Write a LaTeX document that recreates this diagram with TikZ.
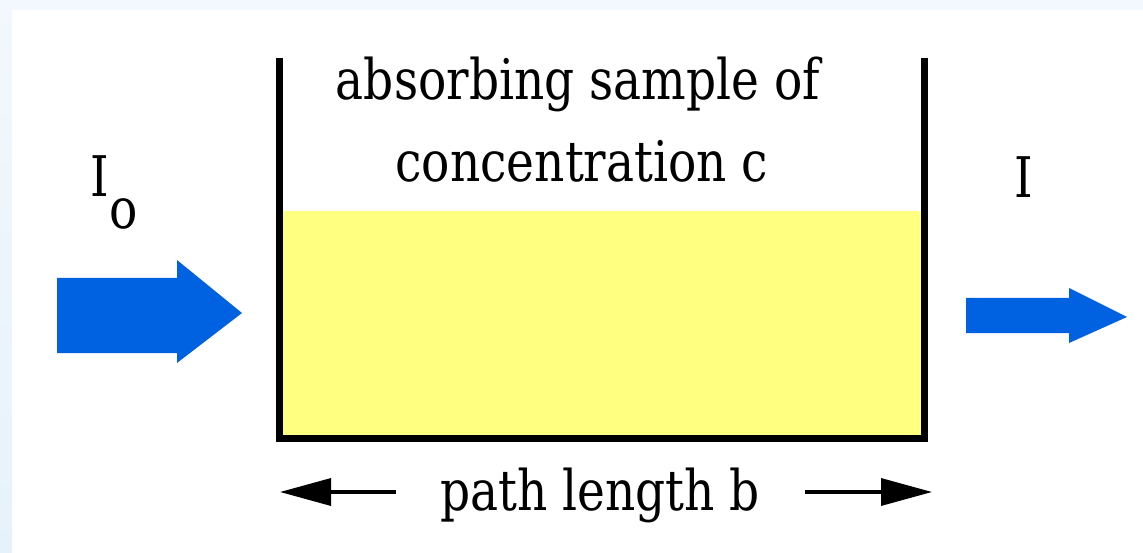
\documentclass[tikz,border=0pt]{standalone}
\usepackage{fontspec}
\newfontfamily\tms{DejaVu Serif}[FakeStretch=0.84]
\usetikzlibrary{arrows.meta}
\definecolor{bgblue}{HTML}{E6F2FB}
\definecolor{bgtop}{HTML}{F2F8FD}
\definecolor{sampleyellow}{HTML}{FFFF80}
\definecolor{beamblue}{HTML}{0062E0}
\tikzset{
  lbl/.style={inner sep=0pt, anchor=base, font=\tms\fontsize{56}{68}\selectfont},
  wall/.style={line width=7pt, line join=miter, line cap=butt},
  beam/.style={fill=beamblue, draw=none},
  dim/.style={line width=3.4pt, -{Triangle[length=51pt,width=27pt]}}
}
\begin{document}
\begin{tikzpicture}[x=1pt,y=-1pt]
\useasboundingbox (0,0) rectangle (1143,553);
% background frame
\shade[top color=bgtop, bottom color=bgblue] (0,0) rectangle (12,553);
\fill[bgtop] (12,0) rectangle (1143,10);
\fill[white] (12,10) rectangle (1143,553);
% sample
\fill[sampleyellow] (283,211) rectangle (921,435);
\draw[wall] (279.5,58) -- (279.5,438.5) -- (924.5,438.5) -- (924.5,58);
% beams
\fill[beam] (57,278) -- (177,278) -- (177,260) -- (242,313) -- (177,363) -- (177,353) -- (57,353) -- cycle;
\fill[beam] (966,298) -- (1069,298) -- (1069,288) -- (1127,317) -- (1069,343) -- (1069,333) -- (966,333) -- cycle;
% texts
\node[lbl] (t1) at (578,100) {absorbing sample of};
\node[lbl] (t2) at (582,182) {concentration c};
\node[lbl, anchor=base west] (io) at (90,197) {I\kern1pt\raisebox{-32pt}{o}};
\node[lbl] (ii) at (1024,198) {I};
\node[lbl] (plb) at (600,510) {path length b};
% path length arrows
\coordinate (la) at (396,492);
\coordinate (lb) at (280,492);
\coordinate (ra) at (805,492);
\coordinate (rb) at (932,492);
\draw[dim] (la) -- (lb);
\draw[dim] (ra) -- (rb);
\end{tikzpicture}
\end{document}
